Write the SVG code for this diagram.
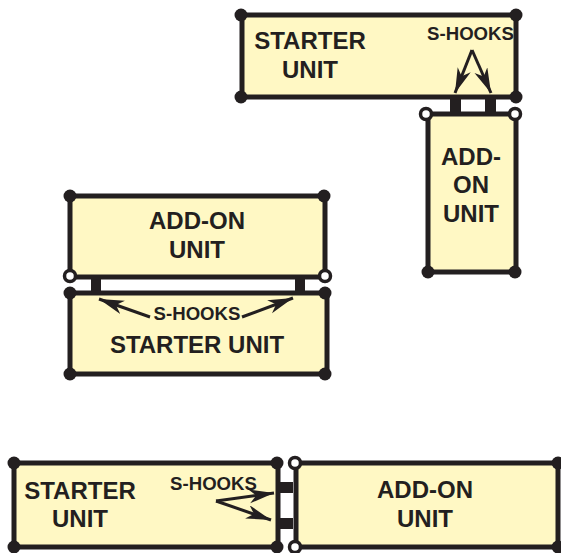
<svg xmlns="http://www.w3.org/2000/svg" width="561" height="553" viewBox="0 0 561 553">
<style>
.u{fill:#fff8c4;stroke:#231f20;stroke-width:5}
.b{fill:#231f20}
.w{fill:#fff;stroke:#231f20;stroke-width:3.5}
.k{fill:#231f20;stroke:none}
text{font-family:"Liberation Sans",Arial,sans-serif;font-weight:700;fill:#231f20;text-anchor:middle}
.l{font-size:24px}
.s{font-size:18.6px}
.a{fill:none;stroke:#231f20;stroke-width:3}
</style>
<defs>
<marker id="ah" markerUnits="userSpaceOnUse" markerWidth="26" markerHeight="16" refX="25" refY="7" orient="auto"><path d="M0 0L25 7L0 14L7 7Z" fill="#231f20"/></marker>
</defs>
<g id="starter-top">
<rect class="u" x="242" y="15" width="274" height="82"/>
<circle class="b" cx="241" cy="15" r="6.5"/><circle class="b" cx="516" cy="15" r="6.5"/><circle class="b" cx="241" cy="97" r="6.5"/><circle class="b" cx="516" cy="97" r="6.5"/>
<text class="l" x="310" y="49">STARTER</text><text class="l" x="310" y="78">UNIT</text>
<text class="s" x="470.500" y="40">S-HOOKS</text>
</g>
<g id="addon-right">
<rect class="u" x="428" y="114" width="88" height="158"/>
<circle class="b" cx="428" cy="272" r="6.5"/><circle class="b" cx="515" cy="272" r="6.5"/>
<circle class="w" cx="426" cy="114" r="5.5"/><circle class="w" cx="515" cy="114" r="5.5"/>
<text class="l" x="471" y="165">ADD-</text><text class="l" x="471" y="193">ON</text><text class="l" x="471" y="222">UNIT</text>
</g>
<g id="addon-mid">
<rect class="u" x="70" y="196" width="255" height="81"/>
<circle class="b" cx="70" cy="196" r="6.5"/><circle class="b" cx="324" cy="196" r="6.5"/>
<circle class="w" cx="70" cy="276" r="5.5"/><circle class="w" cx="325" cy="276" r="5.5"/>
<text class="l" x="197" y="229">ADD-ON</text><text class="l" x="197" y="258">UNIT</text>
</g>
<g id="starter-mid">
<rect class="u" x="70" y="293" width="257" height="81"/>
<circle class="b" cx="70" cy="293" r="6.5"/><circle class="b" cx="325" cy="293" r="6.5"/><circle class="b" cx="70" cy="374" r="6.5"/><circle class="b" cx="325" cy="374" r="6.5"/>
<text class="s" x="197" y="320">S-HOOKS</text>
<text class="l" x="197" y="353">STARTER UNIT</text>
</g>
<g id="starter-bottom">
<rect class="u" x="14" y="463" width="264" height="84"/>
<circle class="b" cx="14" cy="463" r="6.5"/><circle class="b" cx="277" cy="463" r="6.5"/><circle class="b" cx="14" cy="547" r="6.5"/><circle class="b" cx="277" cy="547" r="6.5"/>
<text class="l" x="80" y="499">STARTER</text><text class="l" x="80" y="527">UNIT</text>
<text class="s" x="213.500" y="490">S-HOOKS</text>
</g>
<g id="addon-bottom">
<rect class="u" x="296" y="463" width="262" height="84"/>
<circle class="w" cx="295" cy="463" r="5.5"/><circle class="w" cx="295" cy="547" r="5.5"/>
<circle class="b" cx="558" cy="463" r="6.500"/><circle class="b" cx="558" cy="547" r="6.500"/>
<text class="l" x="425" y="498">ADD-ON</text><text class="l" x="425" y="527">UNIT</text>
</g>
<g id="connectors">
<rect class="k" x="450" y="97" width="11" height="17"/><rect class="k" x="485" y="97" width="11" height="17"/>
<rect class="k" x="91" y="277" width="10" height="17"/><rect class="k" x="295" y="277" width="10" height="17"/>
<rect class="k" x="278" y="482" width="15" height="11"/><rect class="k" x="278" y="518" width="15" height="11"/>
<path class="a" marker-end="url(#ah)" d="M472 50L455 93"/><path class="a" marker-end="url(#ah)" d="M472 50L491 93"/>
<path class="a" marker-end="url(#ah)" d="M150 317L99 299"/><path class="a" marker-end="url(#ah)" d="M242 317L293 298"/>
<path class="a" marker-end="url(#ah)" d="M216 501L274 493"/><path class="a" marker-end="url(#ah)" d="M216 501L271 520"/>
</g>
</svg>
